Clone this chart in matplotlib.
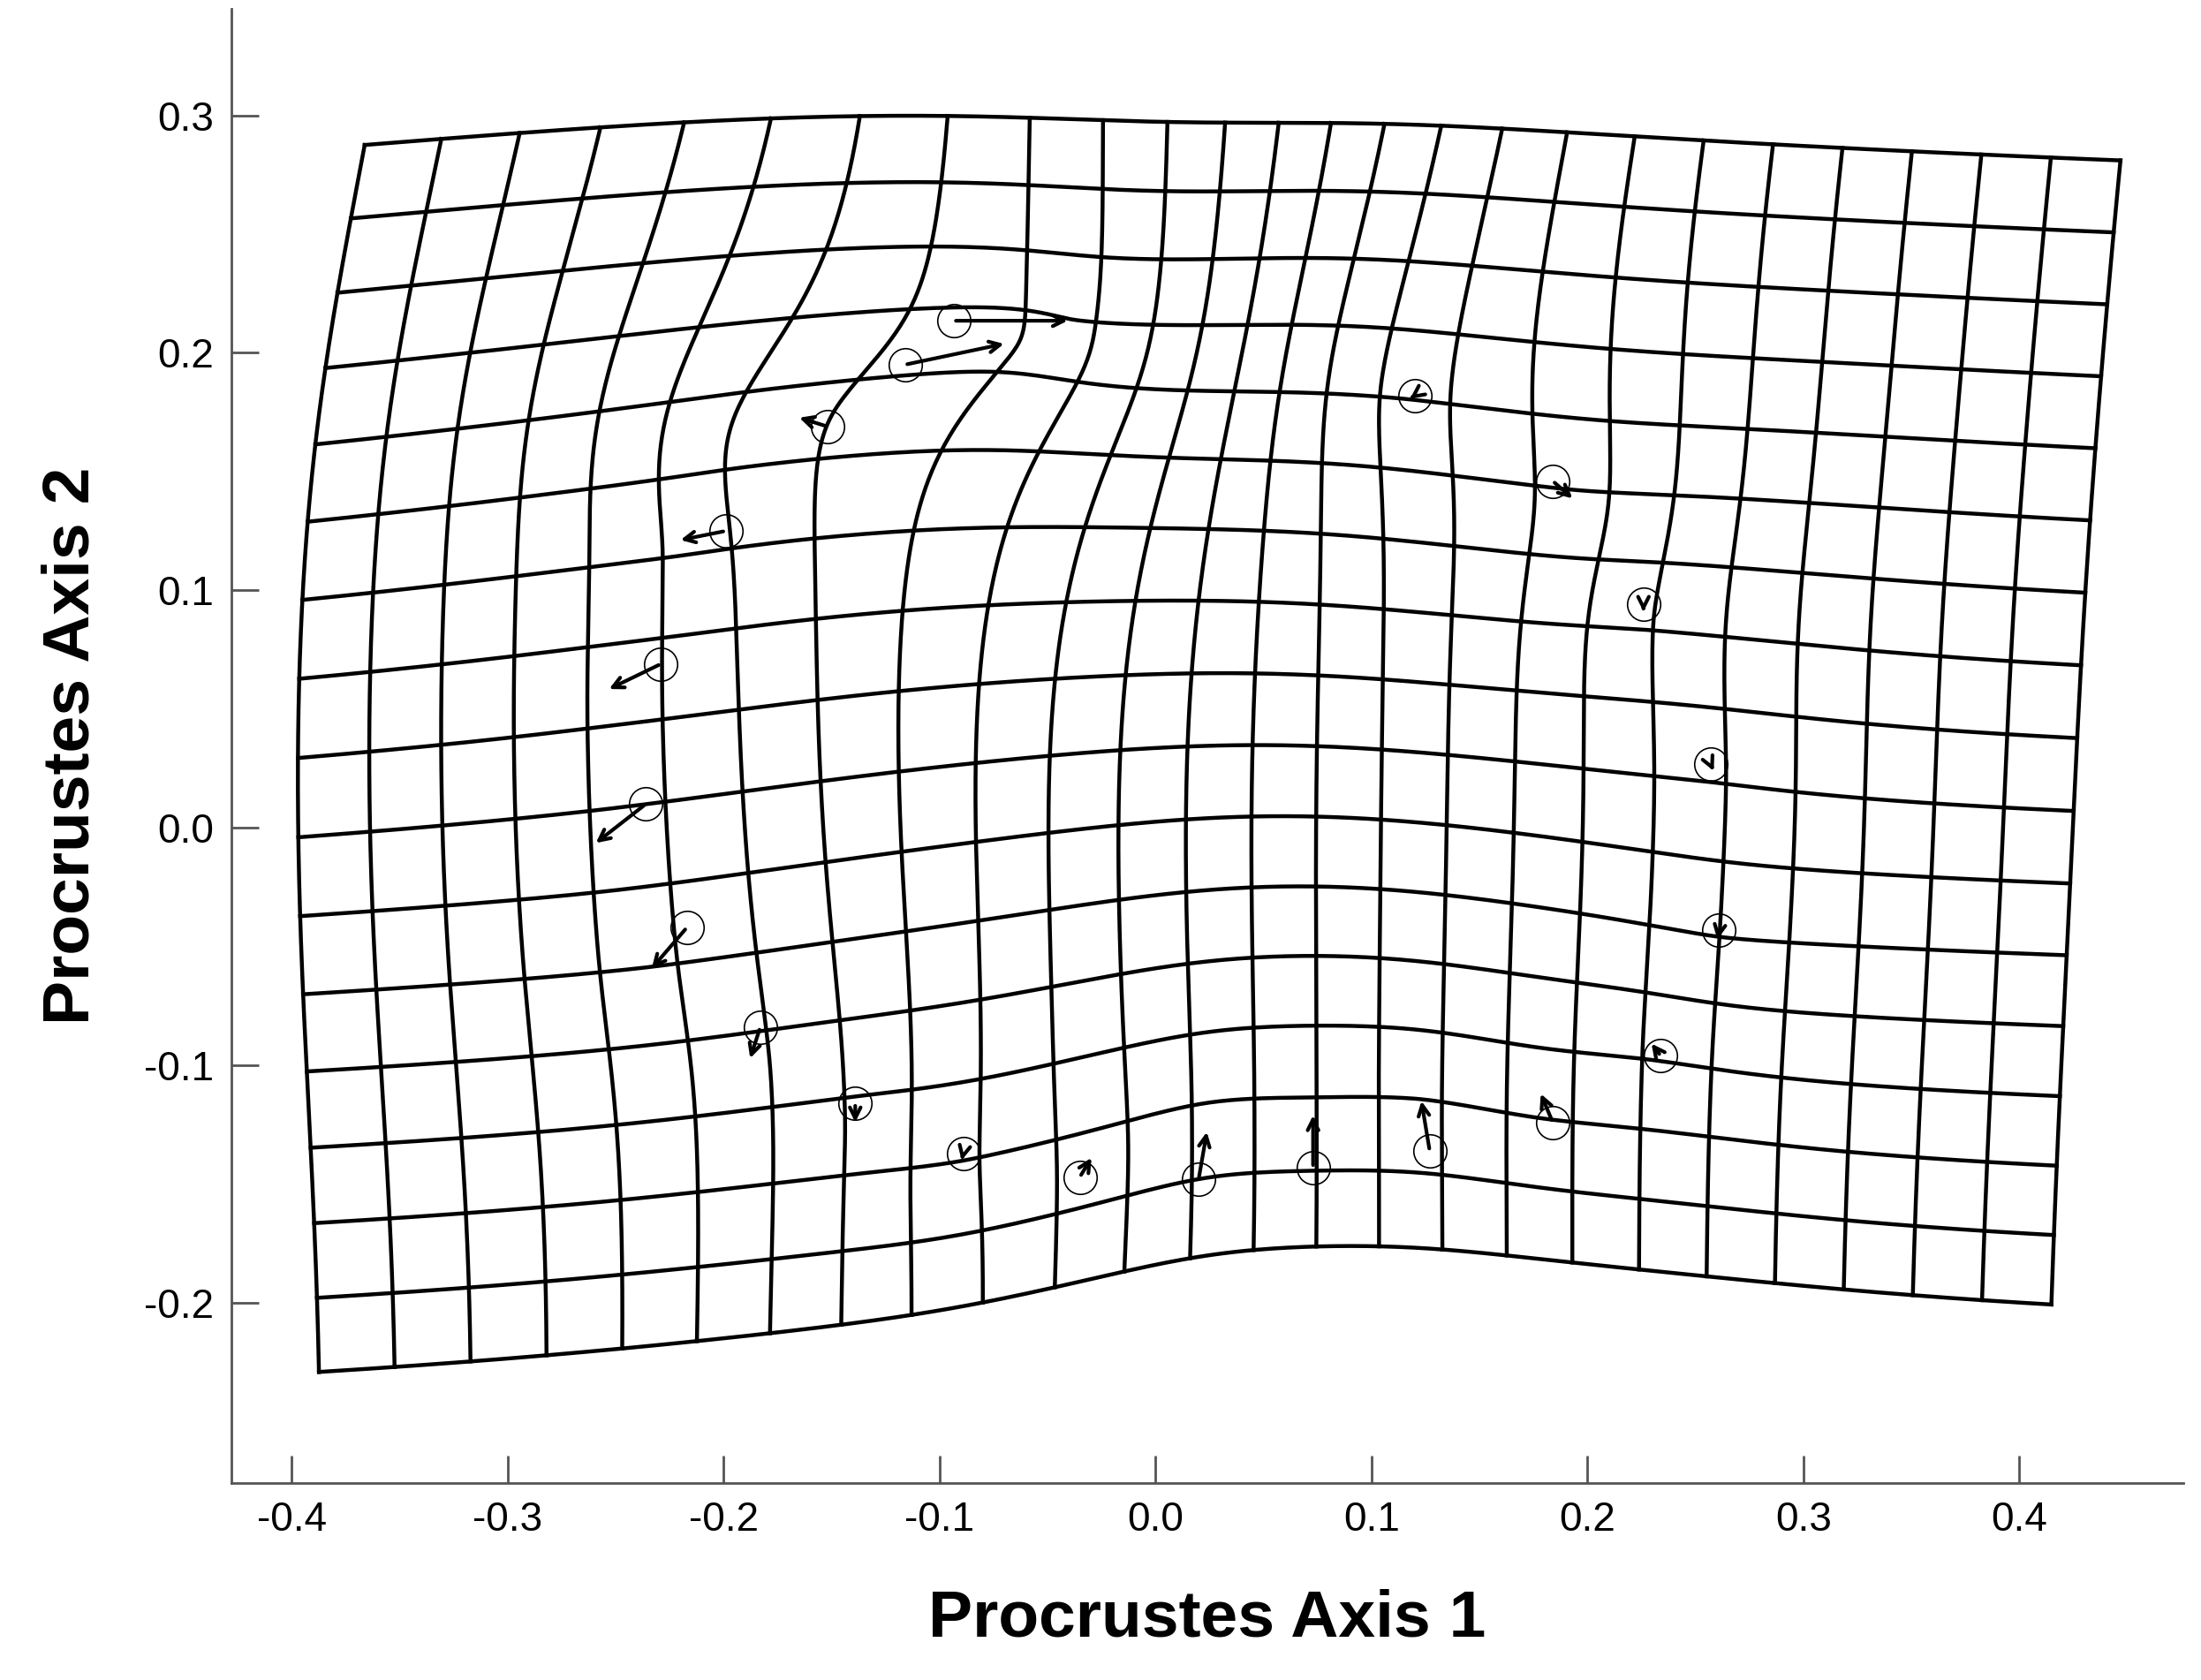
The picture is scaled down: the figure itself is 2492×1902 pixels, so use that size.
import numpy as np
import matplotlib.pyplot as plt

plt.rcParams['font.family'] = ['Liberation Sans', 'DejaVu Sans']

# landmark positions (reference configuration)
lm_x = [-0.0935, -0.116, -0.152, -0.199, -0.229, -0.236, -0.217, -0.183, -0.139, -0.089, -0.035,
        0.020, 0.073, 0.127, 0.184, 0.234, 0.261, 0.257, 0.226, 0.184, 0.120]
lm_y = [0.2135, 0.195, 0.169, 0.125, 0.069, 0.010, -0.042, -0.084, -0.116, -0.137, -0.147,
        -0.148, -0.143, -0.136, -0.124, -0.096, -0.043, 0.027, 0.094, 0.146, 0.182]
# displacement vectors (arrows)
d_x = [0.054, 0.047, -0.014, -0.022, -0.025, -0.024, -0.017, -0.005, 0.000, -0.001, 0.006,
       0.004, 0.000, -0.004, -0.006, -0.005, -0.001, 0.002, 0.000, 0.010, -0.003]
d_y = [0.000, 0.009, 0.004, -0.004, -0.011, -0.017, -0.018, -0.014, -0.009, -0.004, 0.009,
       0.021, 0.023, 0.022, 0.013, 0.006, -0.005, -0.004, -0.004, -0.008, -0.002]

src = np.column_stack([lm_x, lm_y])
dst = src + np.column_stack([d_x, d_y]) * 1.0


def U(r2):
    with np.errstate(divide='ignore', invalid='ignore'):
        out = r2 * np.log(r2)
    return np.nan_to_num(out)


# thin-plate spline fit
n = len(src)
K = U(((src[:, None, :] - src[None, :, :]) ** 2).sum(-1))
P = np.column_stack([np.ones(n), src])
L = np.zeros((n + 3, n + 3))
L[:n, :n] = K
L[:n, n:] = P
L[n:, :n] = P.T
rhs = np.zeros((n + 3, 2))
rhs[:n] = dst
coef = np.linalg.solve(L, rhs)


def warp(pts):
    k = U(((pts[:, None, :] - src[None, :, :]) ** 2).sum(-1))
    return k @ coef[:n] + np.column_stack([np.ones(len(pts)), pts]) @ coef[n:]


gx = np.linspace(-0.362, 0.418, 26)
gy = np.linspace(-0.200, 0.310, 17)
fine_x = np.linspace(gx[0], gx[-1], 300)
fine_y = np.linspace(gy[0], gy[-1], 300)

fig = plt.figure(figsize=(24.92, 19.02), dpi=100)
ax = fig.add_axes([0.105, 0.117, 0.887, 0.878])

for y in gy:
    w = warp(np.column_stack([fine_x, np.full_like(fine_x, y)]))
    ax.plot(w[:, 0], w[:, 1], color='black', lw=3.2)
for x in gx:
    w = warp(np.column_stack([np.full_like(fine_y, x), fine_y]))
    ax.plot(w[:, 0], w[:, 1], color='black', lw=3.2)

ax.plot(lm_x, lm_y, 'o', mfc='none', mec='black', ms=27, mew=1.2)
for x, y, dx, dy in zip(lm_x, lm_y, d_x, d_y):
    ax.annotate('', xy=(x + dx, y + dy), xytext=(x, y),
                arrowprops=dict(arrowstyle='->', lw=3, color='black', mutation_scale=22))

xt = [-0.4, -0.3, -0.2, -0.1, 0.0, 0.1, 0.2, 0.3, 0.4]
yt = [-0.2, -0.1, 0.0, 0.1, 0.2, 0.3]
ax.set_xlim(-0.428, 0.476)
ax.set_ylim(-0.276, 0.345)
ax.set_xticks(xt)
ax.set_yticks(yt)
ax.set_xticklabels([f'{v:.1f}' for v in xt])
ax.set_yticklabels([f'{v:.1f}' for v in yt])
ax.tick_params(direction='in', length=22, width=2, labelsize=33, pad=14, color='#555555')
for s in ['top', 'right']:
    ax.spines[s].set_visible(False)
for s in ['left', 'bottom']:
    ax.spines[s].set_linewidth(2)
    ax.spines[s].set_color('#555555')
ax.set_xlabel('Procrustes Axis 1', fontsize=54, fontweight='bold', labelpad=40)
ax.set_ylabel('Procrustes Axis 2', fontsize=54, fontweight='bold', labelpad=34)

fig.savefig('out.png')
